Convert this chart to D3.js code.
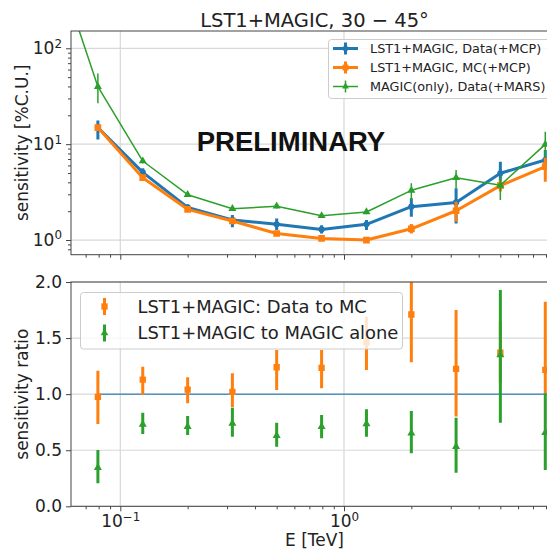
<!DOCTYPE html>
<html>
<head>
<meta charset="utf-8">
<script src="https://cdn.jsdelivr.net/npm/d3@7"></script>
<style>
  html, body { margin: 0; padding: 0; background: #fff; }
  svg { display: block; font-family: 'DejaVu Sans', sans-serif; }
</style>
</head>
<body>
<svg id="chart" width="547" height="551"></svg>
<script>
// ---------------- DATA ----------------
const energy = [0.0794, 0.126, 0.2, 0.317, 0.5, 0.794, 1.26, 2.0, 3.17, 5.0, 7.94];
const magicEnergy = [0.05, 0.0794, 0.126, 0.2, 0.317, 0.5, 0.794, 1.26, 2.0, 3.17, 5.0, 7.94];

const dataSens = [14.9, 5.08, 2.19, 1.62, 1.46, 1.29, 1.46, 2.23, 2.47, 4.97, 6.84];
const dataLo   = [11.2, 4.6, 2.02, 1.36, 1.27, 1.17, 1.27, 1.75, 1.49, 3.75, 5.4];
const dataHi   = [17.7, 5.6, 2.35, 1.82, 1.68, 1.43, 1.62, 2.72, 3.46, 6.56, 8.7];

const mcSens = [14.9, 4.47, 2.09, 1.58, 1.17, 1.04, 1.0, 1.31, 2.02, 3.69, 5.82];
const mcLo   = [14.0, 4.3, 2.0, 1.5, 1.12, 1.0, 0.96, 1.17, 1.55, 3.2, 4.06];
const mcHi   = [15.8, 4.65, 2.18, 1.66, 1.22, 1.08, 1.04, 1.47, 2.51, 4.2, 7.2];

const magicSens = [1000, 39.8, 6.67, 2.97, 2.12, 2.25, 1.79, 1.96, 3.30, 4.47, 3.72, 9.96];
const magicLo   = [null, 26.7, 6.3, 2.85, 2.02, 2.13, 1.7, 1.86, 2.6, 3.46, 2.61, 7.4];
const magicHi   = [null, 54.7, 7.1, 3.1, 2.24, 2.38, 1.88, 2.07, 3.9, 5.37, 4.57, 13.5];

const ratioDataMC   = [0.975, 1.13, 1.04, 1.02, 1.24, 1.235, 1.46, 1.71, 1.225, 1.37, 1.217];
const ratioDataMCLo = [0.734, 0.992, 0.918, 0.883, 1.037, 1.052, 1.215, 1.285, 0.80, 1.1, 1.008];
const ratioDataMCHi = [1.209, 1.245, 1.150, 1.186, 1.394, 1.394, 1.69, 2.12, 1.75, 1.65, 1.824];

const ratioLstMagic   = [0.344, 0.731, 0.71, 0.74, 0.63, 0.71, 0.734, 0.651, 0.531, 1.349, 0.656];
const ratioLstMagicLo = [0.205, 0.645, 0.636, 0.621, 0.531, 0.606, 0.621, 0.473, 0.30, 0.746, 0.324];
const ratioLstMagicHi = [0.502, 0.835, 0.805, 0.879, 0.746, 0.814, 0.865, 0.85, 0.79, 1.929, 1.008];

const topLegendLabels = ["LST1+MAGIC, Data(+MCP)", "LST1+MAGIC, MC(+MCP)", "MAGIC(only), Data(+MARS)"];
const bottomLegendLabels = ["LST1+MAGIC: Data to MC", "LST1+MAGIC to MAGIC alone"];
const titleText = "LST1+MAGIC, 30 \u2212 45\u00B0";
const xMajorTicks = [0.1, 1];
const yTopMajorTicks = [1, 10, 100];
const yBottomTicks = [0.0, 0.5, 1.0, 1.5, 2.0];

// ---------------- LAYOUT ----------------
const C = { blue: "#1f77b4", orange: "#ff7f0e", green: "#2ca02c" };
const L = 71, R = 558;
const T1 = 31, B1 = 254.7, T2 = 282, B2 = 506.3;
const svg = d3.select("#chart");

const x = d3.scaleLog().domain([0.0602, 9.05]).range([L, R]);
const yTop = d3.scaleLog().domain([0.703, 151.5]).range([B1, T1]);
const yBot = d3.scaleLinear().domain([0, 2]).range([B2, T2]);

function minorLog(lo, hi) {
  const out = [];
  for (let e = -3; e <= 3; e++) for (let m = 2; m <= 9; m++) {
    const v = m * Math.pow(10, e);
    if (v >= lo && v <= hi) out.push(v);
  }
  return out;
}
const xMinor = minorLog(0.0602, 9.05);
const yMinor = minorLog(0.703, 151.5);

svg.append("defs").selectAll("clipPath").data([["c1", T1, B1], ["c2", T2, B2]]).join("clipPath")
  .attr("id", d => d[0]).append("rect")
  .attr("x", L).attr("y", d => d[1]).attr("width", R - L).attr("height", d => d[2] - d[1]);

const gridColor = "#d8d8d8";
const spineColor = "#444";

function supLabel(sel, base, exp) {
  sel.text(null);
  sel.append("tspan").text(base);
  sel.append("tspan").attr("dy", "-0.55em").attr("font-size", "0.7em").text(exp);
}
function expOf(v) { const e = Math.round(Math.log10(v)); return e < 0 ? "\u2212" + (-e) : String(e); }

// ---------- grids ----------
function drawGrid(yScale, yTicks, top, bottom) {
  const g = svg.append("g");
  g.selectAll(".gx").data(xMajorTicks).join("line")
    .attr("x1", d => x(d)).attr("x2", d => x(d)).attr("y1", top).attr("y2", bottom)
    .attr("stroke", gridColor).attr("stroke-width", 1.2);
  g.selectAll(".gy").data(yTicks).join("line")
    .attr("x1", L).attr("x2", R).attr("y1", d => yScale(d)).attr("y2", d => yScale(d))
    .attr("stroke", gridColor).attr("stroke-width", 1.2);
}
drawGrid(yTop, yTopMajorTicks, T1, B1);
drawGrid(yBot, yBottomTicks, T2, B2);

// ---------- series helpers ----------
function errorSeries(g, xs, ys, los, his, yScale, opt) {
  const pts = xs.map((e, i) => ({ e, v: ys[i], lo: los[i], hi: his[i] }));
  if (opt.line) {
    g.append("path").datum(pts)
      .attr("d", d3.line().x(d => x(d.e)).y(d => yScale(d.v)))
      .attr("fill", "none").attr("stroke", opt.color).attr("stroke-width", opt.lw)
      .attr("stroke-linejoin", "round");
  }
  g.selectAll(null).data(pts.filter(d => d.lo != null)).join("line")
    .attr("x1", d => x(d.e)).attr("x2", d => x(d.e))
    .attr("y1", d => yScale(d.lo)).attr("y2", d => yScale(d.hi))
    .attr("stroke", opt.color).attr("stroke-width", opt.elw);
  const sym = d3.symbol().type(opt.marker).size(opt.msize);
  g.selectAll(null).data(pts.filter(d => d.lo != null)).join("path")
    .attr("d", sym).attr("transform", d => `translate(${x(d.e)},${yScale(d.v)})`)
    .attr("fill", opt.color);
}

// ---------- top panel ----------
const gTop = svg.append("g").attr("clip-path", "url(#c1)");
errorSeries(gTop, energy, dataSens, dataLo, dataHi, yTop, { color: C.blue, line: true, lw: 3, elw: 3, marker: d3.symbolCircle, msize: 30 });
errorSeries(gTop, energy, mcSens, mcLo, mcHi, yTop, { color: C.orange, line: true, lw: 3, elw: 3, marker: d3.symbolSquare, msize: 45 });
errorSeries(gTop, magicEnergy, magicSens, magicLo, magicHi, yTop, { color: C.green, line: true, lw: 1.5, elw: 1.5, marker: d3.symbolTriangle, msize: 28 });

// PRELIMINARY
svg.append("text").attr("x", 291).attr("y", 150.5).attr("text-anchor", "middle")
  .attr("font-family", "'Liberation Sans', Arial, sans-serif").attr("font-weight", "bold")
  .attr("font-size", 27.5).attr("fill", "#111").text("PRELIMINARY");

// ---------- bottom panel ----------
const gBot = svg.append("g").attr("clip-path", "url(#c2)");
gBot.append("line").attr("x1", x(energy[0])).attr("x2", R + 10)
  .attr("y1", yBot(1)).attr("y2", yBot(1))
  .attr("stroke", C.blue).attr("stroke-opacity", 0.75).attr("stroke-width", 1.5);
errorSeries(gBot, energy, ratioDataMC, ratioDataMCLo, ratioDataMCHi, yBot, { color: C.orange, line: false, elw: 3, marker: d3.symbolSquare, msize: 40 });
errorSeries(gBot, energy, ratioLstMagic, ratioLstMagicLo, ratioLstMagicHi, yBot, { color: C.green, line: false, elw: 3, marker: d3.symbolTriangle, msize: 28 });

// ---------- axes ----------
function frame(top, bottom) {
  svg.append("rect").attr("x", L).attr("y", top).attr("width", R - L).attr("height", bottom - top)
    .attr("fill", "none").attr("stroke", spineColor).attr("stroke-width", 1);
}
function xAxis(yPos, labels) {
  const gMin = svg.append("g").attr("transform", `translate(0,${yPos})`)
    .call(d3.axisBottom(x).tickValues(xMinor).tickSize(3).tickFormat(""));
  gMin.select(".domain").remove();
  gMin.selectAll("line").attr("stroke", spineColor);
  const gMaj = svg.append("g").attr("transform", `translate(0,${yPos})`)
    .call(d3.axisBottom(x).tickValues(xMajorTicks).tickSize(5).tickPadding(4));
  gMaj.select(".domain").remove();
  gMaj.selectAll("line").attr("stroke", spineColor);
  gMaj.selectAll("text").attr("font-size", 17).attr("font-family", "'DejaVu Sans', sans-serif").attr("fill", "#222")
    .each(function (d) { if (labels) supLabel(d3.select(this), "10", expOf(d)); else d3.select(this).remove(); });
}
xAxis(B1, false);
xAxis(B2, true);

// y top
{
  const gMin = svg.append("g").attr("transform", `translate(${L},0)`)
    .call(d3.axisLeft(yTop).tickValues(yMinor).tickSize(3).tickFormat(""));
  gMin.select(".domain").remove();
  gMin.selectAll("line").attr("stroke", spineColor);
  const gMaj = svg.append("g").attr("transform", `translate(${L},0)`)
    .call(d3.axisLeft(yTop).tickValues(yTopMajorTicks).tickSize(5).tickPadding(4));
  gMaj.select(".domain").remove();
  gMaj.selectAll("line").attr("stroke", spineColor);
  gMaj.selectAll("text").attr("font-size", 17).attr("font-family", "'DejaVu Sans', sans-serif").attr("fill", "#222")
    .each(function (d) { supLabel(d3.select(this), "10", expOf(d)); });
}
// y bottom
{
  const gMaj = svg.append("g").attr("transform", `translate(${L},0)`)
    .call(d3.axisLeft(yBot).tickValues(yBottomTicks).tickSize(5).tickPadding(4).tickFormat(d3.format(".1f")));
  gMaj.select(".domain").remove();
  gMaj.selectAll("line").attr("stroke", spineColor);
  gMaj.selectAll("text").attr("font-size", 17).attr("font-family", "'DejaVu Sans', sans-serif").attr("fill", "#222");
}
frame(T1, B1);
frame(T2, B2);

// labels
svg.append("text").attr("x", (L + R) / 2).attr("y", 27).attr("text-anchor", "middle")
  .attr("font-size", 19.5).attr("fill", "#222").text(titleText);
svg.append("text").attr("x", (L + R) / 2).attr("y", 546).attr("text-anchor", "middle")
  .attr("font-size", 17).attr("fill", "#222").text("E [TeV]");
svg.append("text").attr("transform", `translate(28,${(T1 + B1) / 2}) rotate(-90)`).attr("text-anchor", "middle")
  .attr("font-size", 17).attr("fill", "#222").text("sensitivity [%C.U.]");
svg.append("text").attr("transform", `translate(28,${(T2 + B2) / 2}) rotate(-90)`).attr("text-anchor", "middle")
  .attr("font-size", 17).attr("fill", "#222").text("sensitivity ratio");

// ---------- top legend ----------
{
  const g = svg.append("g");
  g.append("rect").attr("x", 328.5).attr("y", 39.5).attr("width", 224).attr("height", 59).attr("rx", 3)
    .attr("fill", "#fff").attr("fill-opacity", 0.85).attr("stroke", "#ccc");
  const styles = [
    { color: C.blue, lw: 3, marker: d3.symbolCircle, ms: 25 },
    { color: C.orange, lw: 3, marker: d3.symbolSquare, ms: 35 },
    { color: C.green, lw: 1.5, marker: d3.symbolTriangle, ms: 20 }
  ];
  topLegendLabels.forEach((lab, i) => {
    const cy = 48.5 + i * 19;
    const s = styles[i];
    g.append("line").attr("x1", 333).attr("x2", 358).attr("y1", cy).attr("y2", cy)
      .attr("stroke", s.color).attr("stroke-width", s.lw);
    g.append("line").attr("x1", 345.5).attr("x2", 345.5).attr("y1", cy - 6).attr("y2", cy + 6)
      .attr("stroke", s.color).attr("stroke-width", s.lw);
    g.append("path").attr("d", d3.symbol().type(s.marker).size(s.ms)())
      .attr("transform", `translate(345.5,${cy})`).attr("fill", s.color);
    g.append("text").attr("x", 370).attr("y", cy + 4.5).attr("font-size", 12.8).attr("fill", "#222").text(lab);
  });
}

// ---------- bottom legend ----------
{
  const g = svg.append("g");
  g.append("rect").attr("x", 80.5).attr("y", 292.5).attr("width", 322).attr("height", 56.5).attr("rx", 3)
    .attr("fill", "#fff").attr("fill-opacity", 0.8).attr("stroke", "#ccc");
  const styles = [
    { color: C.orange, marker: d3.symbolSquare, ms: 40 },
    { color: C.green, marker: d3.symbolTriangle, ms: 25 }
  ];
  bottomLegendLabels.forEach((lab, i) => {
    const cy = 306.5 + i * 26.5;
    const s = styles[i];
    g.append("line").attr("x1", 104.5).attr("x2", 104.5).attr("y1", cy - 8.5).attr("y2", cy + 8.5)
      .attr("stroke", s.color).attr("stroke-width", 3);
    g.append("path").attr("d", d3.symbol().type(s.marker).size(s.ms)())
      .attr("transform", `translate(104.5,${cy})`).attr("fill", s.color);
    g.append("text").attr("x", 137.5).attr("y", cy + 6.3).attr("font-size", 17.9).attr("fill", "#222").text(lab);
  });
}
</script>
</body>
</html>
